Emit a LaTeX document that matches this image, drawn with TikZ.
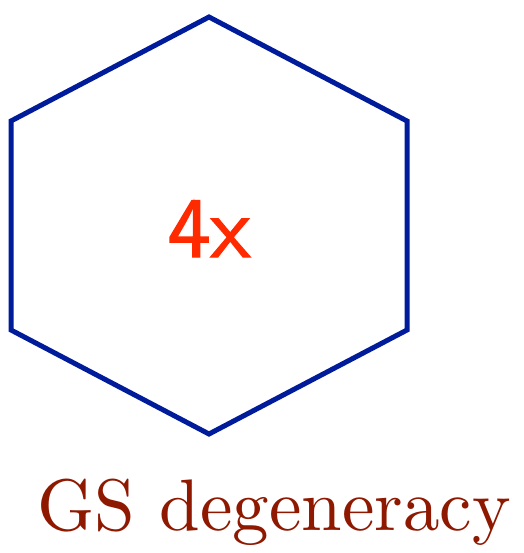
\documentclass[tikz,border=0pt]{standalone}
\usepackage{fontspec}
\newfontfamily\capfont{lmroman10-regular.otf}
\newfontfamily\numfont[FakeBold=1.5]{lmsans10-regular.otf}
\definecolor{hexblue}{HTML}{001C9A}
\definecolor{numred}{HTML}{FF2A00}
\definecolor{capred}{HTML}{8E1800}
\begin{document}
\begin{tikzpicture}[x=1pt,y=-1pt,
  hexline/.style={draw=hexblue,line width=5pt,line join=miter},
  numlabel/.style={text=numred,font=\numfont\fontsize{86}{90}\selectfont,inner sep=0pt,anchor=base},
  caplabel/.style={text=capred,font=\capfont\fontsize{73}{80}\selectfont,inner sep=0pt,anchor=base}]
\useasboundingbox (0,0) rectangle (523,553);
\coordinate (t) at (209,17);
\coordinate (ur) at (407,121);
\coordinate (lr) at (407,330);
\coordinate (b) at (209,434);
\coordinate (ll) at (11,330);
\coordinate (ul) at (11,121);
\draw[hexline] (t) -- (ur) -- (lr) -- (b) -- (ll) -- (ul) -- cycle;
\node[numlabel] (num) at (209,257) {4x};
\node[caplabel] (cap) at (274,530) {GS degeneracy};
\end{tikzpicture}
\end{document}
